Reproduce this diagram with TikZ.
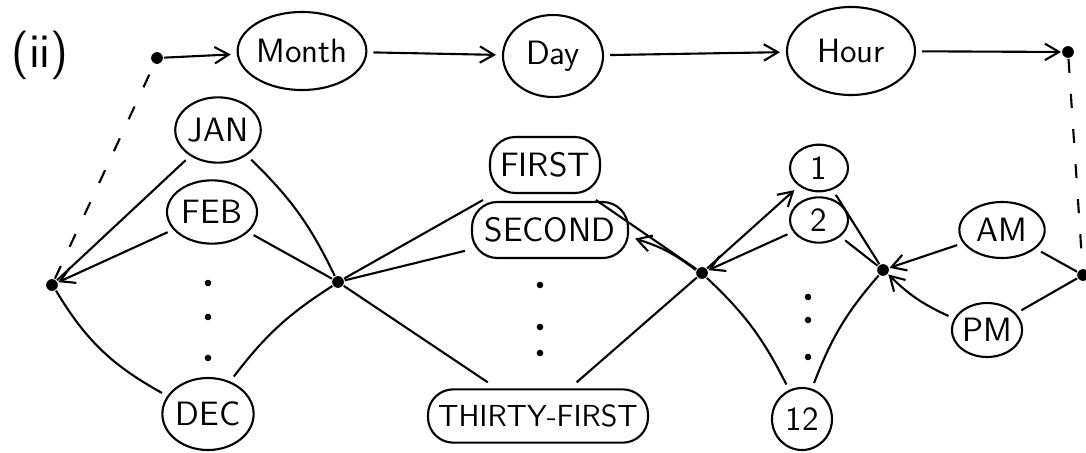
\documentclass[tikz,border=0pt]{standalone}
\usetikzlibrary{shapes.geometric,arrows.meta}
\tikzset{
  blob/.style={draw,ellipse,inner sep=0pt,outer sep=3pt},
  longblob/.style={draw,rectangle,rounded corners=0.38cm,inner sep=0pt,outer sep=3pt},
  dotnode/.style={circle,fill,inner sep=0pt,minimum size=5pt},
  dashline/.style={dash pattern=on 6pt off 9pt},
}
\begin{document}
\begin{tikzpicture}[x=1.5cm,y=1.5cm,font=\Large\sffamily,line width=0.9pt,>={Straight Barb[length=6pt,width=7pt]}]
\useasboundingbox (0,0) rectangle (10.86,4.52);
\node[font=\huge\sffamily] (lbl) at (0.40,3.97) {(ii)};

% top chain
\node[dotnode] (s) at (1.57,3.94) {};
\node[blob,minimum width=1.8cm,minimum height=1.17cm] (month) at (3.02,4.01) {Month};
\node[blob,minimum width=1.5cm,minimum height=1.23cm] (day) at (5.53,3.96) {Day};
\node[blob,minimum width=1.92cm,minimum height=1.32cm] (hour) at (8.51,4.01) {Hour};
\node[dotnode] (e) at (10.68,4.00) {};
\draw[->] (s) -- (month);
\draw[->] (month) -- (day);
\draw[->] (day) -- (hour);
\draw[->] (hour) -- (e);

% months
\node[dotnode] (mL) at (0.52,1.67) {};
\node[blob,minimum width=1.28cm,minimum height=0.98cm] (jan) at (2.18,3.22) {JAN};
\node[blob,minimum width=1.35cm,minimum height=0.95cm] (feb) at (2.12,2.40) {FEB};
\node[blob,minimum width=1.28cm,minimum height=1.08cm] (dec) at (2.08,0.38) {DEC};
\node[dotnode] (mR) at (3.38,1.70) {};

% days
\node[longblob,minimum width=1.65cm,minimum height=0.84cm] (first) at (5.45,2.87) {FIRST};
\node[longblob,minimum width=2.34cm,minimum height=0.84cm] (second) at (5.50,2.22) {SECOND};
\node[longblob,minimum width=3.3cm,minimum height=0.80cm,font=\fontsize{13}{15}\selectfont\sffamily] (thirtyfirst) at (5.38,0.36) {THIRTY-FIRST};
\node[dotnode] (dR) at (7.02,1.79) {};

% hours
\node[blob,minimum width=0.87cm,minimum height=0.70cm] (one) at (8.19,2.84) {1};
\node[blob,minimum width=0.87cm,minimum height=0.68cm] (two) at (8.19,2.32) {2};
\node[blob,minimum width=0.90cm,minimum height=0.93cm] (twelve) at (8.02,0.33) {12};
\node[dotnode] (hR) at (8.83,1.82) {};
\node[blob,minimum width=1.28cm,minimum height=0.84cm] (am) at (10.02,2.22) {AM};
\node[blob,minimum width=1.00cm,minimum height=0.81cm] (pm) at (9.87,1.22) {PM};
\node[dotnode] (z) at (10.83,1.77) {};

\foreach \x/\y in {2.08/1.69,2.08/1.35,2.08/0.94,5.40/1.67,5.40/1.25,5.40/0.99,8.08/1.55,8.08/1.32,8.08/0.95}{
\fill (\x,\y) circle (1.4pt);
}

\draw[dashline] (mL) -- (s);
\draw[dashline] (e) -- (z);

\draw (mL) -- (jan);
\draw[->] (feb) -- (mL);
\draw (mL) to[bend right=15] (dec);
\draw (jan) to[bend left=10] (mR);
\draw (feb) -- (mR);
\draw (dec) to[bend left=10] (mR);

\draw (mR) -- (first);
\draw (mR) -- (second);
\draw (mR) -- (thirtyfirst);
\draw (first) -- (dR);
\draw[->] (dR) to[bend right=10] (second);
\draw (thirtyfirst) -- (dR);

\draw[->] (dR) -- (one);
\draw[->] (two) -- (dR);
\draw (dR) to[bend left=10] (twelve);
\draw (one) -- (hR);
\draw (two) -- (hR);
\draw (twelve) to[bend left=10] (hR);
\draw[->] (am) -- (hR);
\draw[->] (pm) to[bend left=10] (hR);
\draw (am) -- (z);
\draw (pm) -- (z);
\end{tikzpicture}
\end{document}
